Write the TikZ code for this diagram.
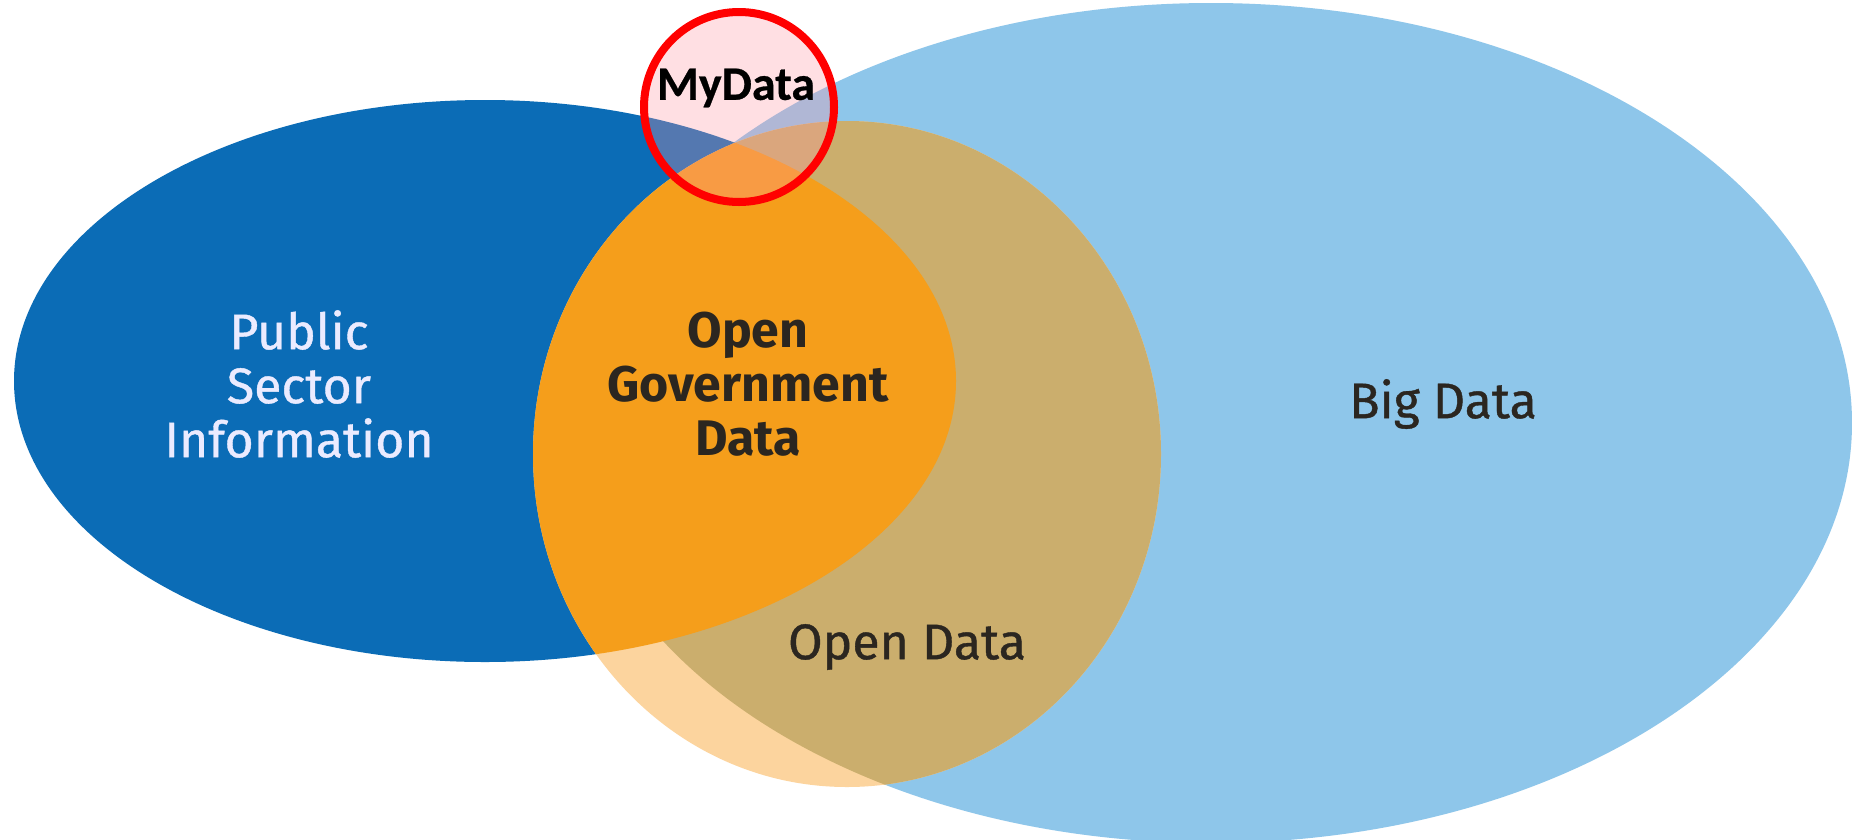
\documentclass[tikz,border=0pt]{standalone}
\usepackage{fontspec}
\setmainfont{Fira Sans}
\newfontfamily\medfont[FakeBold=0.8]{Fira Sans}
\newfontfamily\calib[FakeBold=0.6]{Carlito}
\definecolor{darkblue}{HTML}{0B6CB6}
\definecolor{lightblue}{HTML}{8EC6EA}
\definecolor{ogdorange}{HTML}{F59E1B}
\definecolor{tanc}{HTML}{CBAE6D}
\definecolor{peach}{HTML}{FCD49E}
\definecolor{pinkfill}{RGB}{255,150,165}
\definecolor{textdark}{HTML}{2B2620}
\tikzset{
  lbl/.style={font=\medfont\fontsize{50}{54}\selectfont, align=center, inner sep=0pt},
}
\begin{document}
\begin{tikzpicture}[x=1pt,y=-1pt]
\useasboundingbox (0,0) rectangle (1852,839);
\fill[white] (0,0) rectangle (1852,839);
% Big Data
\fill[lightblue] (1211,423) ellipse [x radius=641, y radius=420];
% Public Sector Information
\fill[darkblue] (485,381) ellipse [x radius=471, y radius=281];
% Open Data circle
\begin{scope}
  \clip (847,454) ellipse [x radius=314, y radius=333];
  \fill[peach] (0,0) rectangle (1852,839);
  \begin{scope}
    \clip (1211,423) ellipse [x radius=641, y radius=420];
    \fill[tanc] (0,0) rectangle (1852,839);
  \end{scope}
  \clip (485,381) ellipse [x radius=471, y radius=281];
  \fill[ogdorange] (0,0) rectangle (1852,839);
\end{scope}
% labels
\node[lbl, text=white!92!blue] (psi) at (299,384) {Public\\Sector\\Information};
\node[lbl, font=\fontsize{50}{54}\selectfont\bfseries, text=textdark] (ogd) at (748,384) {Open\\Government\\Data};
\node[lbl, text=textdark] (big) at (1443,404) {Big Data};
\node[lbl, text=textdark] (od) at (907,647) {Open Data};
% MyData
\fill[pinkfill, fill opacity=0.3] (739,107) circle [radius=95];
\draw[red, line width=8pt] (739,107) circle [radius=95];
\node[inner sep=0pt, font=\calib\bfseries\fontsize{48}{52}\selectfont] (my) at (736,88) {MyData};
\end{tikzpicture}
\end{document}
